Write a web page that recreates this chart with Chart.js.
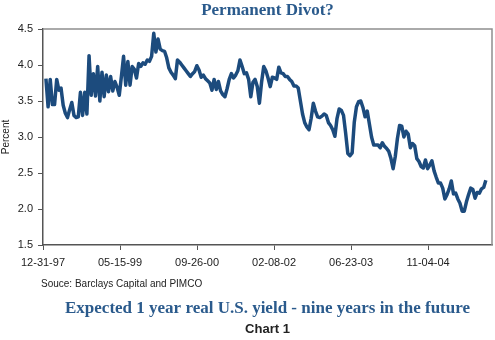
<!DOCTYPE html>
<html>
<head>
<meta charset="utf-8">
<script src="https://cdn.jsdelivr.net/npm/chart.js@4.4.1/dist/chart.umd.min.js"></script>
<style>
  body { margin: 0; background: #fff; }
  #chart { width: 495px; height: 340px; }
</style>
</head>
<body>
<div id="chart"><canvas id="myChart" width="495" height="340"></canvas></div>
<script>
// axis runs from 12-31-97, ticks every 500 days
const axisStart = new Date(Date.UTC(1997, 11, 31))
const axisDays = 2915
const tickStep = 500
const tickLabels = ['12-31-97', '05-15-99', '09-26-00', '02-08-02', '06-23-03', '11-04-04']

// fortnightly readings starting 01-19-98
const firstObs = new Date(Date.UTC(1998, 0, 19))
const obsStep = 14
const yields = [
  3.81, 3.42, 3.80, 3.45, 3.45, 3.80, 3.65, 3.68, 3.44, 3.33,
  3.27, 3.38, 3.48, 3.30, 3.27, 3.28, 3.62, 3.30, 3.62, 3.32,
  4.13, 3.58, 3.88, 3.57, 3.98, 3.50, 3.90, 3.56, 3.86, 3.63,
  3.84, 3.64, 3.77, 3.69, 3.58, 3.84, 4.12, 3.72, 4.05, 3.72,
  3.98, 3.94, 3.82, 4.02, 3.98, 4.03, 4.01, 4.07, 4.05, 4.12,
  4.44, 4.18, 4.36, 4.22, 4.20, 4.19, 4.10, 3.96, 3.90, 3.86,
  3.81, 4.07, 4.04, 4.00, 3.96, 3.92, 3.88, 3.84, 3.88, 3.91,
  3.99, 3.93, 3.83, 3.86, 3.81, 3.78, 3.75, 3.65, 3.80, 3.66,
  3.77, 3.64, 3.59, 3.56, 3.67, 3.80, 3.88, 3.82, 3.86, 3.92,
  4.07, 3.98, 3.88, 3.89, 3.80, 3.56, 3.76, 3.80, 3.70, 3.47,
  3.76, 3.98, 3.92, 3.82, 3.70, 3.83, 3.82, 3.80, 3.97, 3.89,
  3.88, 3.84, 3.84, 3.80, 3.77, 3.71, 3.71, 3.68, 3.50, 3.32,
  3.20, 3.14, 3.10, 3.26, 3.47, 3.36, 3.28, 3.27, 3.29, 3.32,
  3.30, 3.20, 3.16, 3.10, 3.01, 3.26, 3.39, 3.37, 3.30, 3.05,
  2.77, 2.74, 2.78, 3.21, 3.42, 3.49, 3.50, 3.41, 3.28, 3.36,
  3.18, 3.00, 2.89, 2.89, 2.89, 2.85, 2.92, 2.87, 2.84, 2.80,
  2.70, 2.56, 2.73, 2.98, 3.16, 3.15, 3.00, 3.08, 3.04, 2.85,
  2.91, 2.88, 2.70, 2.66, 2.59, 2.57, 2.68, 2.56, 2.61, 2.67,
  2.53, 2.44, 2.36, 2.36, 2.29, 2.14, 2.20, 2.28, 2.39, 2.21,
  2.22, 2.14, 2.08, 1.97, 1.97, 2.10, 2.20, 2.29, 2.27, 2.15,
  2.23, 2.22, 2.28, 2.30, 2.40
]

const dayMs = 86400000
const offset0 = Math.round((firstObs - axisStart) / dayMs)
const points = yields.map((v, i) => ({ x: offset0 + i * obsStep, y: v }))

const BLUE = '#1c4b7d'

// frame on the top/right plus the captions around the plot
const decorations = {
  id: 'decorations',
  afterDraw(chart) {
    const ctx = chart.ctx
    const a = chart.chartArea
    ctx.save()
    ctx.strokeStyle = '#8e8e8e'
    ctx.lineWidth = 1.5
    ctx.beginPath()
    ctx.moveTo(a.left, a.top)
    ctx.lineTo(a.right, a.top)
    ctx.lineTo(a.right, a.bottom)
    ctx.stroke()

    const mid = (a.left + a.right) / 2
    ctx.textBaseline = 'middle'
    ctx.textAlign = 'center'
    ctx.fillStyle = '#2a5a8c'
    ctx.font = 'bold 17px "Liberation Serif"'
    ctx.fillText('Permanent Divot?', mid, 11)
    ctx.fillText('Expected 1 year real U.S. yield - nine years in the future', mid, 309)

    ctx.fillStyle = '#222'
    ctx.font = 'bold 13px "Liberation Sans"'
    ctx.fillText('Chart 1', mid, 329)

    ctx.textAlign = 'left'
    ctx.font = '10px "Liberation Sans"'
    ctx.fillText('Souce: Barclays Capital and PIMCO', 41, 284)
    ctx.restore()
  }
}

new Chart(document.getElementById('myChart'), {
  type: 'line',
  data: {
    datasets: [{
      data: points,
      borderColor: BLUE,
      borderWidth: 3.5,
      pointRadius: 0,
      tension: 0,
      borderJoinStyle: 'round',
      fill: false
    }]
  },
  options: {
    responsive: false,
    animation: false,
    layout: { padding: { top: 29, right: 3, left: 0, bottom: 0 } },
    plugins: {
      legend: { display: false },
      tooltip: { enabled: false }
    },
    scales: {
      x: {
        type: 'linear',
        min: 0,
        max: axisDays,
        afterBuildTicks: (s) => {
          s.ticks = tickLabels.map((t, i) => ({ value: i * tickStep }))
        },
        afterFit: (s) => { s.height = 95 },
        ticks: {
          autoSkip: false,
          maxRotation: 0,
          padding: 6,
          color: '#222',
          font: { family: 'Liberation Sans', size: 11 },
          callback: (v, i) => tickLabels[i]
        },
        grid: { drawOnChartArea: false, tickLength: 5, color: '#555' },
        border: { color: '#555', width: 1.5 }
      },
      y: {
        min: 1.5,
        max: 4.5,
        afterFit: (s) => { s.width = 43 },
        ticks: {
          stepSize: 0.5,
          padding: 5,
          color: '#222',
          font: { family: 'Liberation Sans', size: 11 },
          callback: (v) => v.toFixed(1)
        },
        title: {
          display: true,
          text: 'Percent',
          color: '#222',
          padding: { top: 0, bottom: 2 },
          font: { family: 'Liberation Sans', size: 10 }
        },
        grid: { drawOnChartArea: false, tickLength: 5, color: '#555' },
        border: { color: '#555', width: 1.5 }
      }
    }
  },
  plugins: [decorations]
})
</script>
</body>
</html>
